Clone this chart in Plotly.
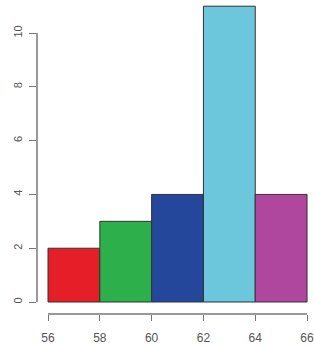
import plotly.graph_objects as go

bin_edges = [56, 58, 60, 62, 64, 66]
counts = [2, 3, 4, 11, 4]
colors = ["#E61E28", "#2DB04B", "#24479B", "#6CC7DC", "#B0479E"]
x_ticks = [56, 58, 60, 62, 64, 66]
y_ticks = [0, 2, 4, 6, 8, 10]

centers = [(a + b) / 2 for a, b in zip(bin_edges[:-1], bin_edges[1:])]
widths = [b - a for a, b in zip(bin_edges[:-1], bin_edges[1:])]

fig = go.Figure(go.Bar(
    x=centers, y=counts, width=widths,
    marker=dict(color=colors, line=dict(color="#333333", width=1)),
))

axis_col = "#777777"
fig.update_layout(
    width=314, height=347,
    margin=dict(l=37, r=1, t=0, b=33),
    paper_bgcolor="white", plot_bgcolor="white",
    showlegend=False,
    font=dict(family="Liberation Sans, Arial, sans-serif", size=11, color="#555555"),
    xaxis=dict(range=[55.575, 66.23], tickvals=x_ticks, ticks="outside", ticklen=6,
               tickcolor=axis_col, showgrid=False, zeroline=False, showline=False,
               automargin=False, ticklabelstandoff=7, tickfont=dict(size=12),
               ticklabeloverflow="allow"),
    yaxis=dict(range=[-0.446, 11.23], tickvals=y_ticks, ticks="outside", ticklen=7,
               tickcolor=axis_col, tickangle=-90, showgrid=False, zeroline=False,
               showline=False, automargin=False, ticklabelstandoff=3,
               ticklabeloverflow="allow"),
)
# R-style axis lines spanning first to last tick
fig.add_shape(type="line", xref="x", yref="paper", x0=x_ticks[0], x1=x_ticks[-1],
              y0=0, y1=0, line=dict(color=axis_col, width=1.5))
fig.add_shape(type="line", xref="paper", yref="y", x0=0, x1=0,
              y0=y_ticks[0], y1=y_ticks[-1], line=dict(color=axis_col, width=1.5))

fig.write_html("out.html", config={"displayModeBar": False},
               post_script="document.body.style.margin='0';document.body.style.overflow='hidden';")
